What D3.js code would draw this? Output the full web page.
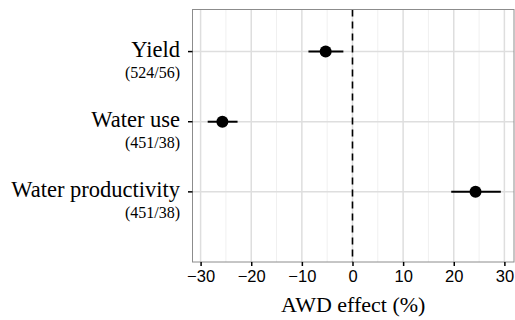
<!DOCTYPE html>
<html>
<head>
<meta charset="utf-8">
<script src="https://cdnjs.cloudflare.com/ajax/libs/d3/7.8.5/d3.min.js"></script>
<style>
body { margin: 0; background: #fff; }
</style>
</head>
<body>
<div id="chart"></div>
<script>
// data
var categories = ["Yield", "Water use", "Water productivity"]
var counts = ["(524/56)", "(451/38)", "(451/38)"]
var effect = [-5.3, -25.7, 24.3]
var lower = [-8.7, -28.6, 19.5]
var upper = [-1.8, -22.7, 29.3]
var xTicks = [-30, -20, -10, 0, 10, 20, 30]
var xMinor = [-25, -15, -5, 5, 15, 25]

var W = 515, H = 320
var panel = {left: 192.5, top: 9.5, right: 514, bottom: 262}

var svg = d3.select("#chart").append("svg")
    .attr("width", W)
    .attr("height", H)

var x = d3.scaleLinear()
    .domain([-31.6, 31.9])
    .range([panel.left, panel.right])

/* discrete axis, ggplot style padding */
var y = d3.scaleLinear()
    .domain([0.4, 4])
    .range([panel.top, panel.bottom])

var grid = svg.append("g")

grid.selectAll("line.minor")
    .data(xMinor)
    .enter().append("line")
    .attr("class", "minor")
    .attr("x1", x).attr("x2", x)
    .attr("y1", panel.top).attr("y2", panel.bottom)
    .attr("stroke", "#f0f0f0")
    .attr("stroke-width", 1)

grid.selectAll("line.major")
    .data(xTicks)
    .enter().append("line")
    .attr("class", "major")
    .attr("x1", x).attr("x2", x)
    .attr("y1", panel.top).attr("y2", panel.bottom)
    .attr("stroke", "#dedede")
    .attr("stroke-width", 1.5)

grid.selectAll("line.hmajor")
    .data(categories)
    .enter().append("line")
    .attr("class", "hmajor")
    .attr("x1", panel.left).attr("x2", panel.right)
    .attr("y1", function(d, i) { return y(i + 1) })
    .attr("y2", function(d, i) { return y(i + 1) })
    .attr("stroke", "#dedede")
    .attr("stroke-width", 1.5)

// zero reference
svg.append("line")
    .attr("x1", x(0)).attr("x2", x(0))
    .attr("y1", panel.top).attr("y2", panel.bottom)
    .attr("stroke", "#000")
    .attr("stroke-width", 1.6)
    .attr("stroke-dasharray", "7,5")

var pts = svg.append("g")

pts.selectAll("line.ci")
    .data(effect)
    .enter().append("line")
    .attr("class", "ci")
    .attr("x1", function(d, i) { return x(lower[i]) })
    .attr("x2", function(d, i) { return x(upper[i]) })
    .attr("y1", function(d, i) { return y(i + 1) })
    .attr("y2", function(d, i) { return y(i + 1) })
    .attr("stroke", "#000")
    .attr("stroke-width", 2)

pts.selectAll("circle")
    .data(effect)
    .enter().append("circle")
    .attr("cx", function(d) { return x(d) })
    .attr("cy", function(d, i) { return y(i + 1) })
    .attr("r", 6)
    .attr("fill", "#000")

// panel border
svg.append("rect")
    .attr("x", panel.left).attr("y", panel.top)
    .attr("width", panel.right - panel.left)
    .attr("height", panel.bottom - panel.top)
    .attr("fill", "none")
    .attr("stroke", "#8c8c8c")
    .attr("stroke-width", 1)

// x axis
var xAxis = svg.append("g")
    .attr("transform", "translate(0," + panel.bottom + ")")
    .call(d3.axisBottom(x).tickValues(xTicks).tickSize(4).tickPadding(4)
        .tickFormat(function(d) { return d < 0 ? "\u2212" + Math.abs(d) : d }))
xAxis.select(".domain").remove()
xAxis.selectAll("line").attr("stroke", "#000").attr("stroke-width", 1.5)
xAxis.selectAll("text")
    .attr("fill", "#000")
    .style("font-family", "'Liberation Sans', Arial, sans-serif")
    .style("font-size", "16.5px")

// y axis ticks
svg.selectAll("line.ytick")
    .data(categories)
    .enter().append("line")
    .attr("class", "ytick")
    .attr("x1", panel.left - 4.5).attr("x2", panel.left)
    .attr("y1", function(d, i) { return y(i + 1) })
    .attr("y2", function(d, i) { return y(i + 1) })
    .attr("stroke", "#000")
    .attr("stroke-width", 1.5)

svg.selectAll("text.ylab")
    .data(categories)
    .enter().append("text")
    .attr("class", "ylab")
    .attr("x", 180)
    .attr("y", function(d, i) { return y(i + 1) + 5.5 })
    .attr("text-anchor", "end")
    .style("font-family", "'Liberation Serif', 'Times New Roman', serif")
    .style("font-size", "22.5px")
    .text(function(d) { return d })

svg.selectAll("text.ysub")
    .data(counts)
    .enter().append("text")
    .attr("class", "ysub")
    .attr("x", 180)
    .attr("y", function(d, i) { return y(i + 1) + 26 })
    .attr("text-anchor", "end")
    .style("font-family", "'Liberation Serif', 'Times New Roman', serif")
    .style("font-size", "16px")
    .text(function(d) { return d })

svg.append("text")
    .attr("x", (panel.left + panel.right) / 2)
    .attr("y", 311.5)
    .attr("text-anchor", "middle")
    .style("font-family", "'Liberation Serif', 'Times New Roman', serif")
    .style("font-size", "22px")
    .text("AWD effect (%)")
</script>
</body>
</html>
